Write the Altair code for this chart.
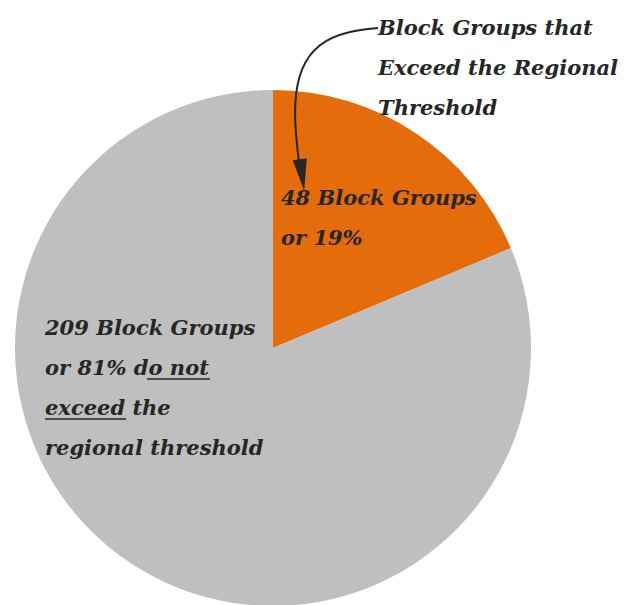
import altair as alt
import pandas as pd

# Data
categories = ["Exceed", "Do not exceed"]
counts = [48, 209]
colors = ["#E46C0A", "#BFBFBF"]

label_top = ["Block Groups that", "Exceed the Regional", "Threshold"]
label_orange = ["48 Block Groups", "or 19%"]
label_gray = ["209 Block Groups", "or 81%  do not", "exceed the", "regional threshold"]

W, H = 622, 597
CX, CY, R = 265, 340, 258
FONT = "DejaVu Serif"
TXT = "#262626"

pie_df = pd.DataFrame({"category": categories, "count": counts, "order": [0, 1]})

pie = alt.Chart(pie_df).mark_arc(radius=R, stroke=None).encode(
    theta=alt.Theta("count:Q", stack=True),
    order=alt.Order("order:Q"),
    color=alt.Color("category:N", scale=alt.Scale(domain=categories, range=colors), legend=None),
    x=alt.value(CX),
    y=alt.value(CY),
)

base_text = dict(font=FONT, fontStyle="italic", fontWeight="bold", fontSize=21,
                 color=TXT, align="left", baseline="alphabetic", lineHeight=40)

one = pd.DataFrame({"k": [0]})

t_top = alt.Chart(one).mark_text(text=label_top, **base_text).encode(
    x=alt.value(370), y=alt.value(27))
t_orange = alt.Chart(one).mark_text(text=label_orange, **base_text).encode(
    x=alt.value(273), y=alt.value(197))
t_gray = alt.Chart(one).mark_text(text=label_gray, **base_text).encode(
    x=alt.value(37), y=alt.value(327))

# underlines for "o not" and "exceed"
ul = alt.Chart(one).mark_rule(color=TXT, strokeWidth=1.3).encode(
    x=alt.value(139), x2=alt.value(202), y=alt.value(371))
ul2 = alt.Chart(one).mark_rule(color=TXT, strokeWidth=1.3).encode(
    x=alt.value(37), x2=alt.value(118), y=alt.value(411))

# curved arrow
arrow_df = pd.DataFrame({
    "px": [370, 340, 310, 292, 286, 288, 292],
    "py": [20, 23, 35, 60, 95, 130, 162],
    "i": list(range(7)),
})
arrow = alt.Chart(arrow_df).mark_line(color=TXT, strokeWidth=2, interpolate="basis").encode(
    x=alt.X("px:Q", scale=None, axis=None),
    y=alt.Y("py:Q", scale=None, axis=None),
    order="i:Q",
)
head = alt.Chart(one).mark_point(shape="M-0.45,-1L0.45,-1L0,1Z", filled=True, color=TXT,
                                 size=1000, opacity=1, angle=352).encode(
    x=alt.value(294), y=alt.value(167))

chart = alt.layer(pie, arrow, head, t_top, t_orange, t_gray, ul, ul2).properties(
    width=W, height=H, padding=0,
    autosize=alt.AutoSizeParams(type="none"),
).configure(background="white").configure_view(stroke=None)

chart.save("out.html", embed_options={"renderer": "svg", "actions": False})
